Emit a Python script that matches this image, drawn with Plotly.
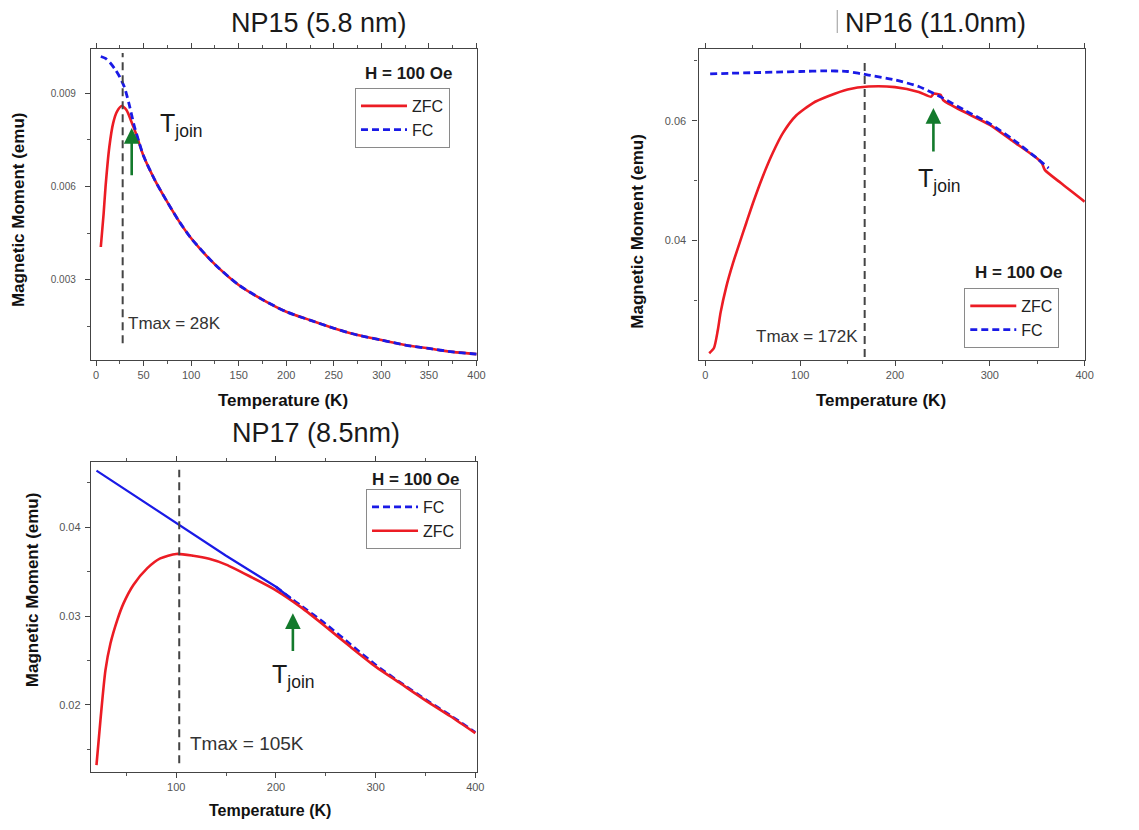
import plotly.graph_objects as go

# ---------------- data ----------------
# NP15 (5.8 nm)
np15_T_zfc = [5, 8, 10, 14, 18, 22, 27, 32, 37, 42, 50, 62, 75, 87, 100, 125, 150, 175,
              200, 225, 250, 275, 300, 325, 350, 375, 400]
np15_zfc = [0.00406, 0.00514, 0.0060, 0.00728, 0.00804, 0.00841, 0.00859, 0.00846, 0.0081,
            0.0077, 0.00698, 0.0062, 0.0055, 0.0049, 0.00434, 0.0035, 0.00284, 0.00237,
            0.00198, 0.00171, 0.00145, 0.00123, 0.00107, 0.00091, 0.00080, 0.00069, 0.00062]
np15_T_fc = [5, 10, 15, 20, 25, 30, 35, 40, 45, 50, 62, 75, 87, 100, 125, 150, 175,
             200, 225, 250, 275, 300, 325, 350, 375, 400]
np15_fc = [0.01018, 0.01012, 0.00997, 0.00977, 0.00952, 0.00918, 0.00862, 0.00797, 0.00745,
           0.00698, 0.0062, 0.0055, 0.0049, 0.00434, 0.0035, 0.00284, 0.00237,
           0.00198, 0.00171, 0.00145, 0.00123, 0.00107, 0.00091, 0.00080, 0.00069, 0.00062]

# NP16 (11.0 nm)
np16_T_zfc = [4, 9, 13, 16, 22, 29, 36, 43, 50, 60, 71, 82, 96, 113, 130, 150, 172,
              200, 225, 238, 241, 248, 251, 275, 300, 325, 350, 355, 358, 375, 400]
np16_zfc = [0.02123, 0.0221, 0.0250, 0.0280, 0.0323, 0.0362, 0.0396, 0.0429, 0.0462,
            0.0505, 0.0546, 0.0580, 0.0609, 0.0629, 0.0641, 0.0652, 0.0657, 0.0656, 0.0648,
            0.0640, 0.0645, 0.0643, 0.0634, 0.0613, 0.0593, 0.0565, 0.0537, 0.0529, 0.0518,
            0.0496, 0.0465]
np16_T_fc = [5, 25, 50, 75, 100, 125, 150, 172, 200, 225, 240, 250, 275, 300, 325, 350, 362]
np16_fc = [0.0678, 0.0679, 0.0680, 0.0681, 0.0682, 0.0683, 0.0682, 0.0676, 0.0668, 0.0657,
           0.0646, 0.0638, 0.0616, 0.0595, 0.0568, 0.0537, 0.0521]

# NP17 (8.5 nm)
np17_T_zfc = [20, 24, 29, 34, 41, 47, 57, 71, 84, 100, 117, 133, 150, 175, 200, 225, 250,
              275, 300, 325, 350, 375, 400]
np17_zfc = [0.0132, 0.0183, 0.0239, 0.0269, 0.0296, 0.0314, 0.0335, 0.0354, 0.0365, 0.0370,
            0.0368, 0.03645, 0.0358, 0.0344, 0.0329, 0.0310, 0.0288, 0.0265, 0.0243, 0.0224,
            0.0205, 0.0187, 0.0168]
np17_T_fc = [20, 50, 103, 150, 200, 215, 225, 250, 275, 300, 325, 350, 375, 400]
np17_fc = [0.0464, 0.0442, 0.0403, 0.0368, 0.0333, 0.0320, 0.0312, 0.0291, 0.0268, 0.0245,
           0.0225, 0.0206, 0.0188, 0.0169]

titles = ["NP15 (5.8 nm)", "NP16 (11.0nm)", "NP17 (8.5nm)"]
tmax_labels = ["Tmax = 28K", "Tmax = 172K", "Tmax = 105K"]
tmax_line_T = [28, 168, 103]
tmax_line_M = [(0.000965, 0.01029), (0.0206, 0.0701), (0.0134, 0.0465)]
tmax_label_pos = [(31, 0.00161), (163, 0.02395), (112, 0.01565)]
tjoin_arrow_T = [37.5, 240.5, 217]
tjoin_arrow_M = [(0.00632, 0.00788), (0.0546, 0.0621), (0.0259, 0.0303)]
tjoin_label_pos = [(65, 0.00798), (222, 0.0501), (194, 0.02324)]
field_label = "H = 100 Oe"
x_title = "Temperature (K)"
y_title = "Magnetic Moment (emu)"

RED = "#ec1c24"
BLUE = "#1a1ae6"
GREEN = "#137a2c"
FONT = "Arial, Liberation Sans, sans-serif"

# the page body keeps its default 8px margin on every side, so the figure
# is sized to fit the window inside it; the captured picture comes out
# slightly narrower horizontally, which XS/XO compensate for
OFF = 8
FW, FH = 1139 - 2 * OFF, 830 - 2 * OFF
XS, XO = 0.9894, 1.0


def fx(x):
    return ((x - XO) / XS - OFF) / FW


def fy(y):
    return 1 - (y - OFF) / FH


fig = go.Figure()

# ---- NP15 ----
fig.add_trace(go.Scatter(x=np15_T_zfc, y=np15_zfc, name="ZFC", mode="lines",
                         line=dict(color=RED, width=2.6, shape="spline", smoothing=0.7),
                         xaxis="x", yaxis="y", legend="legend"))
fig.add_trace(go.Scatter(x=np15_T_fc, y=np15_fc, name="FC", mode="lines",
                         line=dict(color=BLUE, width=2.8, dash="7px,4px", shape="spline", smoothing=0.7),
                         xaxis="x", yaxis="y", legend="legend"))

# ---- NP16 ----
fig.add_trace(go.Scatter(x=np16_T_zfc, y=np16_zfc, name="ZFC", mode="lines",
                         line=dict(color=RED, width=2.6, shape="spline", smoothing=0.6),
                         xaxis="x2", yaxis="y2", legend="legend2"))
fig.add_trace(go.Scatter(x=np16_T_fc, y=np16_fc, name="FC", mode="lines",
                         line=dict(color=BLUE, width=2.8, dash="7px,4px", shape="spline", smoothing=0.6),
                         xaxis="x2", yaxis="y2", legend="legend2"))

# ---- NP17 ----
fc_dash_T = [t for t in np17_T_fc if t >= 200]
fc_dash_M = [m for t, m in zip(np17_T_fc, np17_fc) if t >= 200]
fc_solid_T = [t for t in np17_T_fc if t <= 215]
fc_solid_M = [m for t, m in zip(np17_T_fc, np17_fc) if t <= 215]
fig.add_trace(go.Scatter(x=fc_dash_T, y=fc_dash_M, name="FC", mode="lines",
                         line=dict(color=BLUE, width=2.6, dash="7px,4px", shape="spline", smoothing=0.6),
                         xaxis="x3", yaxis="y3", legend="legend3"))
fig.add_trace(go.Scatter(x=np17_T_zfc, y=np17_zfc, name="ZFC", mode="lines",
                         line=dict(color=RED, width=2.6, shape="spline", smoothing=0.7),
                         xaxis="x3", yaxis="y3", legend="legend3"))
fig.add_trace(go.Scatter(x=fc_solid_T, y=fc_solid_M, name="FC", mode="lines", showlegend=False,
                         line=dict(color=BLUE, width=2.2),
                         xaxis="x3", yaxis="y3"))

axes_ids = [("x", "y"), ("x2", "y2"), ("x3", "y3")]


# ---------------- axes ----------------
def xax(domain, anchor, rng, dtick, minor, tick0=0):
    return dict(domain=domain, anchor=anchor, range=rng, tick0=tick0, dtick=dtick,
                showgrid=False, zeroline=False, showline=True, linecolor="#444", linewidth=1.4,
                mirror="ticks", ticks="outside", ticklen=5, tickwidth=1.2, tickcolor="#444",
                minor=dict(dtick=minor, tick0=tick0, ticks="outside", ticklen=3, tickwidth=1, tickcolor="#555"),
                tickfont=dict(family=FONT, size=11, color="#555"))


def yax(domain, anchor, rng, dtick, minor, fmt, size, standoff):
    return dict(domain=domain, anchor=anchor, range=rng, tick0=0, dtick=dtick, tickformat=fmt,
                showgrid=False, zeroline=False, showline=True, linecolor="#444", linewidth=1.4,
                mirror=True, ticks="outside", ticklen=5, tickwidth=1.2, tickcolor="#444",
                ticklabelstandoff=standoff,
                minor=dict(dtick=minor, tick0=0, ticks="outside", ticklen=3, tickwidth=1, tickcolor="#555"),
                tickfont=dict(family=FONT, size=size, color="#555"))


d1x = [fx(91.7), fx(476.7)]
d1y = [fy(360), fy(49.3)]
d2x = [fx(697.7), fx(1083)]
d3y = [fy(771.7), fy(461.7)]

fig.update_layout(
    xaxis=xax(d1x, "y", [-5.3, 400.6], 50, 25),
    yaxis=yax(d1y, "x", [0.00043, 0.01041], 0.003, 0.0015, ".3f", 10, 7),
    xaxis2=xax(d2x, "y2", [-7.2, 400.3], 100, 50),
    yaxis2=yax(d1y, "x2", [0.0201, 0.0719], 0.02, 0.01, ".2f", 11, 4),
    xaxis3=xax(d1x, "y3", [14.5, 401.7], 100, 50),
    yaxis3=yax(d3y, "x3", [0.01245, 0.0474], 0.01, 0.005, ".2f", 11, 2),
)


# ---------------- legends ----------------
def leg(x, y):
    return dict(x=fx(x), y=fy(y), xanchor="left", yanchor="top", bgcolor="white",
                bordercolor="#8a8a8a", borderwidth=1, font=dict(family=FONT, size=16, color="#222"),
                tracegroupgap=0, itemwidth=46)


fig.update_layout(legend=leg(355, 88),
                  legend2=leg(962.7, 288),
                  legend3=leg(366, 489))

# ---------------- annotations / shapes ----------------
ann = []
shapes = []
title_pos = [(319, 23), (934, 23.3), (316, 433)]
field_pos = [(408, 73.3), (1016.5, 273), (415.5, 479)]
xt_pos = [(283, 400), (880, 400), (270, 810)]
yt_pos = [(19, 210), (636, 231), (33, 590)]
tmax_size = [17, 17, 19]

for i in range(3):
    xa, ya = axes_ids[i]
    ann.append(dict(text=titles[i], x=fx(title_pos[i][0]), y=fy(title_pos[i][1]),
                    xref="paper", yref="paper", showarrow=False, xanchor="center", yanchor="middle",
                    font=dict(family=FONT, size=27, color="#1a1a1a")))
    ann.append(dict(text="<b>" + field_label + "</b>", x=fx(field_pos[i][0]), y=fy(field_pos[i][1]),
                    xref="paper", yref="paper", showarrow=False, xanchor="center", yanchor="middle",
                    font=dict(family=FONT, size=17, color="#1a1a1a")))
    ann.append(dict(text="<b>" + x_title + "</b>", x=fx(xt_pos[i][0]), y=fy(xt_pos[i][1]),
                    xref="paper", yref="paper", showarrow=False, xanchor="center", yanchor="middle",
                    font=dict(family=FONT, size=17 if i < 2 else 16, color="#111")))
    ann.append(dict(text="<b>" + y_title + "</b>", x=fx(yt_pos[i][0]), y=fy(yt_pos[i][1]),
                    xref="paper", yref="paper", showarrow=False, xanchor="center", yanchor="middle",
                    textangle=-90, font=dict(family=FONT, size=17, color="#111")))
    # Tmax dashed line
    shapes.append(dict(type="line", xref=xa, yref=ya, x0=tmax_line_T[i], x1=tmax_line_T[i],
                       y0=tmax_line_M[i][0], y1=tmax_line_M[i][1],
                       line=dict(color="#444", width=2, dash="8px,5px")))
    ann.append(dict(text=tmax_labels[i], x=tmax_label_pos[i][0], y=tmax_label_pos[i][1],
                    xref=xa, yref=ya, showarrow=False,
                    xanchor="right" if i == 1 else "left", yanchor="middle",
                    font=dict(family=FONT, size=tmax_size[i], color="#333")))
    # T_join arrow + label
    ann.append(dict(text="", x=tjoin_arrow_T[i], y=tjoin_arrow_M[i][1],
                    ax=tjoin_arrow_T[i], ay=tjoin_arrow_M[i][0], xref=xa, yref=ya,
                    axref=xa, ayref=ya, showarrow=True, arrowhead=2, arrowsize=1.2,
                    arrowwidth=2.6, arrowcolor=GREEN))
    ann.append(dict(text="T<sub>join</sub>", x=tjoin_label_pos[i][0], y=tjoin_label_pos[i][1],
                    xref=xa, yref=ya, showarrow=False, xanchor="left", yanchor="middle",
                    font=dict(family=FONT, size=25, color="#1a1a1a")))

# small vertical mark left of the NP16 title
shapes.append(dict(type="line", xref="paper", yref="paper", x0=fx(836), x1=fx(836),
                   y0=fy(10), y1=fy(33), line=dict(color="#999", width=1)))

fig.update_layout(annotations=ann, shapes=shapes)

fig.update_layout(width=FW, height=FH, autosize=False,
                  margin=dict(l=0, r=0, t=0, b=0),
                  paper_bgcolor="white", plot_bgcolor="white",
                  font=dict(family=FONT))

fig.write_html("out.html")
